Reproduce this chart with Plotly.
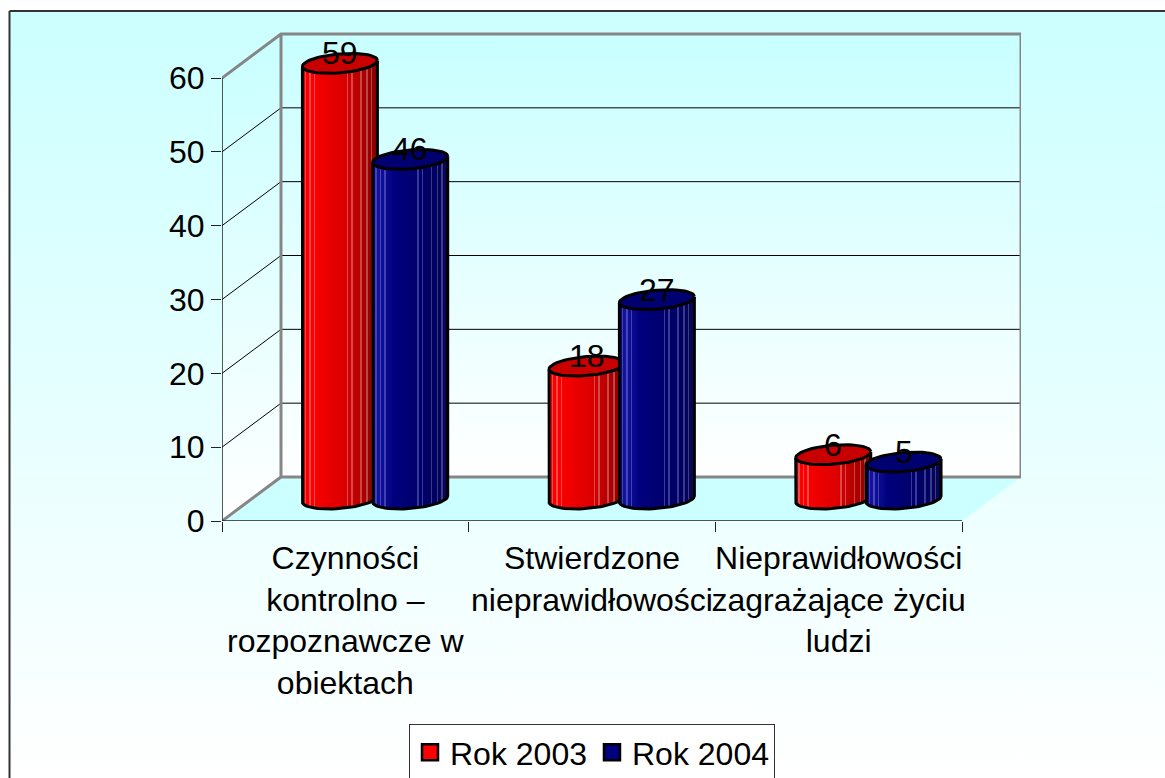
import math
import urllib.parse
import plotly.graph_objects as go

# ---- data ----
categories = ["Czynności<br>kontrolno –<br>rozpoznawcze w<br>obiektach",
              "Stwierdzone<br>nieprawidłowości",
              "Nieprawidłowości<br>zagrażające życiu<br>ludzi"]
rok_2003 = [59, 18, 6]
rok_2004 = [46, 27, 5]
y_ticks = [0, 10, 20, 30, 40, 50, 60]

# ---- geometry of the pseudo-3D frame ----
W, H = 1165, 778
LEFT, RIGHT, TOP, BOTTOM = 222, 1021, 32, 521
PX_X = 740 / 3          # px per category
PX_Y = 443 / 60         # px per value unit
XMAX = (RIGHT - LEFT) / PX_X
YMAX = (BOTTOM - TOP) / PX_Y
DX = 59 / PX_X          # depth offset
DY = 44 / PX_Y
R_A = 37.5 / PX_X       # cylinder half width
R_B = 9.5 / PX_Y        # cylinder half depth
TILT = 3.0 / PX_Y
OFFSETS = {"2003": 0.478, "2004": 0.763}
FONT = "Liberation Sans, Arial, sans-serif"
FS = 32
CY0 = DY / 2


def px(x):
    return (x - LEFT) / (RIGHT - LEFT)


def py(y):
    return (BOTTOM - y) / (BOTTOM - TOP)


def shade(u, palette, lights, highlight, mix):
    for i in range(len(palette) - 1):
        (u0, c0), (u1, c1) = palette[i], palette[i + 1]
        if u <= u1:
            t = (u - u0) / (u1 - u0)
            col = [c0[k] + (c1[k] - c0[k]) * t for k in range(3)]
            break
    if any(abs(u - l) < 0.0105 for l in lights):
        col = [c + (h - c) * mix for c, h in zip(col, highlight)]
    return "rgb(%d,%d,%d)" % tuple(col)


RED_PAL = [(0, (225, 0, 0)), (0.1, (255, 0, 0)), (0.3, (238, 0, 0)), (0.55, (222, 0, 0)),
           (0.8, (178, 0, 0)), (1, (135, 0, 0))]
BLUE_PAL = [(0, (0, 0, 120)), (0.08, (20, 20, 160)), (0.3, (0, 0, 125)), (0.6, (0, 0, 110)),
            (0.85, (0, 0, 95)), (1, (10, 10, 80))]
LIGHTS = [0.05, 0.11, 0.17, 0.61, 0.67, 0.79, 0.87, 0.93]
N = 50

fig = go.Figure()

# ---- walls, floor (base subplot) ----
GRAD = dict(type="vertical", colorscale=[[0, "#FFFFFF"], [1, "#C8FFFF"]])
fig.add_trace(go.Scatter(x=[0, DX, DX, 0, 0], y=[0, DY, 60 + DY, 60, 0], fill="toself", mode="none",
                         fillgradient=GRAD, showlegend=False, hoverinfo="skip"))
fig.add_trace(go.Scatter(x=[DX, 3 + DX, 3 + DX, DX, DX], y=[DY, DY, 60 + DY, 60 + DY, DY], fill="toself",
                         mode="none", fillgradient=GRAD, showlegend=False, hoverinfo="skip"))
fig.add_trace(go.Scatter(x=[0, DX, 3 + DX, 3, 0], y=[0, DY, DY, 0, 0], fill="toself", mode="none",
                         fillcolor="#CCFFFF", showlegend=False, hoverinfo="skip"))
# gridlines
for v in y_ticks[1:-1]:
    fig.add_trace(go.Scatter(x=[0, DX, 3 + DX], y=[v, v + DY, v + DY], mode="lines",
                             line=dict(color="#000000", width=1), showlegend=False, hoverinfo="skip"))
# grey frame
fig.add_trace(go.Scatter(x=[0, DX, 3 + DX, 3 + DX, DX, DX, None, 0, DX],
                         y=[60, 60 + DY, 60 + DY, DY, DY, 60 + DY, None, 0, DY], mode="lines",
                         line=dict(color="#868686", width=3), cliponaxis=False,
                         showlegend=False, hoverinfo="skip"))
# axis lines
fig.add_trace(go.Scatter(x=[0, 0, 3], y=[60, 0, 0], mode="lines", line=dict(color="#222222", width=1.5),
                         cliponaxis=False, showlegend=False, hoverinfo="skip"))


def cylinders(values, key, palette, top_color, highlight, mix, axn):
    off = OFFSETS[key]
    xs, bases, heights, colors = [], [], [], []
    for i, v in enumerate(values):
        cx = i + off
        for s in range(N):
            u = (s + 0.5) / N
            c = 2 * u - 1
            xs.append(cx + c * R_A)
            bases.append(CY0 - R_B * math.sqrt(1 - c * c) + TILT * c)
            heights.append(v)
            colors.append(shade(u, palette, LIGHTS, highlight, mix))
    fig.add_trace(go.Bar(x=xs, y=heights, base=bases, width=2 * R_A / N * 1.05, marker=dict(color=colors, line=dict(width=0)),
                         xaxis="x" + axn, yaxis="y" + axn, showlegend=False, hoverinfo="skip"))
    T = [k / 60 * 2 * math.pi for k in range(61)]
    for i, v in enumerate(values):
        cx = i + off
        # silhouette: left edge, lower arc, right edge
        ox = [cx - R_A] + [cx + R_A * math.cos(t) for t in T[30:61]] + [cx + R_A]
        oy = [CY0 + v - TILT] + [CY0 + R_B * math.sin(t) + TILT * math.cos(t) for t in T[30:61]] + [CY0 + v + TILT]
        fig.add_trace(go.Scatter(x=ox, y=oy, mode="lines", line=dict(color="black", width=3),
                                 xaxis="x" + axn, yaxis="y" + axn, showlegend=False, hoverinfo="skip"))
        tx = [cx + R_A * math.cos(t) for t in T]
        ty = [CY0 + v + R_B * math.sin(t) + TILT * math.cos(t) for t in T]
        fig.add_trace(go.Scatter(x=tx, y=ty, mode="lines", fill="toself", fillcolor=top_color,
                                 line=dict(color="black", width=3), cliponaxis=False,
                                 xaxis="x" + axn, yaxis="y" + axn, showlegend=False, hoverinfo="skip"))


cylinders(rok_2003, "2003", RED_PAL, "#C80000", (255, 255, 255), 0.28, "2")
cylinders(rok_2004, "2004", BLUE_PAL, "#000070", (190, 190, 255), 0.3, "3")

# legend entries
for name, col in (("Rok 2003", "#FF0000"), ("Rok 2004", "#000080")):
    fig.add_trace(go.Scatter(x=[None], y=[None], name=name, mode="markers",
                             marker=dict(symbol="square", size=16, color=col, line=dict(color="black", width=2.5))))

# data labels
anns = []
for key, vals in (("2003", rok_2003), ("2004", rok_2004)):
    for i, v in enumerate(vals):
        anns.append(dict(x=i + OFFSETS[key], y=CY0 + v, xref="x", yref="y", text=str(v), showarrow=False,
                         yshift=10, xanchor="center", yanchor="middle",
                         font=dict(family=FONT, size=FS, color="black")))

# page gradient background
svg = ("<svg xmlns='http://www.w3.org/2000/svg' width='100' height='100' preserveAspectRatio='none'>"
       "<defs><linearGradient id='g' x1='0' y1='0' x2='0' y2='1'><stop offset='0' stop-color='#CCFFFF'/>"
       "<stop offset='1' stop-color='#FFFFFF'/></linearGradient></defs>"
       "<rect width='100' height='100' fill='url(#g)'/></svg>")
src = "data:image/svg+xml," + urllib.parse.quote(svg)

hidden = dict(visible=False, fixedrange=True)
fig.update_layout(
    width=W, height=H, margin=dict(l=LEFT, r=W - RIGHT, t=TOP, b=H - BOTTOM, autoexpand=False),
    paper_bgcolor="white", plot_bgcolor="rgba(0,0,0,0)", barmode="overlay", bargap=0,
    font=dict(family=FONT, size=FS, color="black"),
    xaxis=dict(range=[0, XMAX], tickmode="array", tickvals=[0.5, 1.5, 2.5], ticktext=categories, ticks="",
               showgrid=False, zeroline=False, showline=False, tickangle=0, fixedrange=True,
               ticklabelstandoff=15,
               minor=dict(tickmode="array", tickvals=[0, 1, 2, 3], ticks="outside", ticklen=10, tickwidth=1,
                          tickcolor="#222222", showgrid=False)),
    yaxis=dict(range=[0, YMAX], tickmode="array", tickvals=y_ticks, ticks="outside", ticklen=10, tickwidth=1,
               tickcolor="#222222", showgrid=False, zeroline=False, showline=False, fixedrange=True),
    xaxis2=dict(overlaying="x", range=[0, XMAX], **hidden),
    yaxis2=dict(overlaying="y", range=[0, YMAX], **hidden),
    xaxis3=dict(overlaying="x", range=[0, XMAX], **hidden),
    yaxis3=dict(overlaying="y", range=[0, YMAX], **hidden),
    annotations=anns,
    images=[dict(source=src, xref="paper", yref="paper", x=px(10), y=py(12), sizex=(W - 10) / (RIGHT - LEFT),
                 sizey=(H - 12) / (BOTTOM - TOP), sizing="stretch", xanchor="left", yanchor="top", layer="below")],
    shapes=[dict(type="line", xref="paper", yref="paper", x0=px(9.5), x1=px(W), y0=py(11), y1=py(11),
                 line=dict(color="#333333", width=2)),
            dict(type="line", xref="paper", yref="paper", x0=px(9.5), x1=px(9.5), y0=py(11), y1=py(H),
                 line=dict(color="#333333", width=2))],
    showlegend=True,
    legend=dict(orientation="h", x=px(409), y=py(724), xanchor="left", yanchor="top", bgcolor="white",
                bordercolor="#333333", borderwidth=1, font=dict(family=FONT, size=FS, color="black"),
                itemsizing="trace", itemwidth=30, itemclick=False, itemdoubleclick=False),
)

fig.write_html("out.html", config=dict(displayModeBar=False),
               post_script="document.body.style.margin='0';document.documentElement.style.overflow='hidden';")
